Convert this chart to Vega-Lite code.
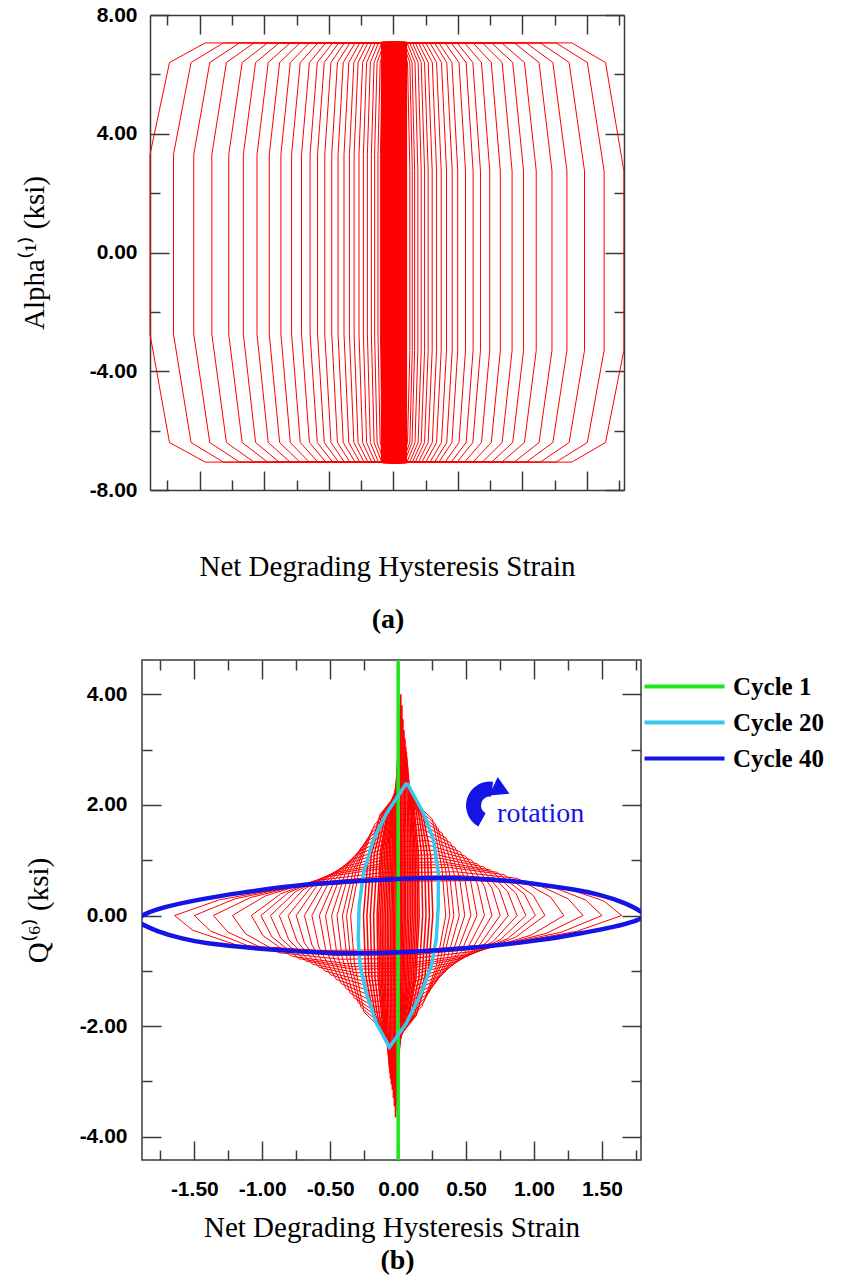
{
"$schema":"https://vega.github.io/schema/vega-lite/v6.json",
"background":"white",
"padding":{"left":20,"top":4,"right":0,"bottom":0},
"spacing":24,
"columns":1,
"align":"none",
"config":{
"view":{"stroke":"#3a3a3a","strokeWidth":1.5},
"axis":{"domain":false,"domainColor":"#3a3a3a","domainWidth":1.5,"grid":false,"tickColor":"#3a3a3a","tickWidth":1.5,"labelFont":"Liberation Sans","labelFontWeight":"bold","labelFontSize":21,"labelColor":"#000","titleFont":"Liberation Serif","titleFontWeight":"normal","titleFontSize":29,"titleColor":"#000","labelFlush":false,"labelOverlap":false}
},
"datasets":{
"a":[
{"l":1,"x":-1.457,"y":-7.06},{"l":1,"x":1.383,"y":-7.06},{"l":1,"x":1.644,"y":-6.4},{"l":1,"x":1.786,"y":-3.3},{"l":1,"x":1.786,"y":2.75},{"l":1,"x":1.644,"y":6.4},{"l":1,"x":1.383,"y":7.06},{"l":1,"x":-1.457,"y":7.06},{"l":1,"x":-1.734,"y":6.4},{"l":1,"x":-1.885,"y":3.3},{"l":1,"x":-1.885,"y":-2.75},{"l":1,"x":-1.734,"y":-6.4},{"l":1,"x":-1.457,"y":-7.06},
{"l":2,"x":-1.316,"y":-7.06},{"l":2,"x":1.26,"y":-7.06},{"l":2,"x":1.503,"y":-6.4},{"l":2,"x":1.633,"y":-3.3},{"l":2,"x":1.633,"y":2.75},{"l":2,"x":1.503,"y":6.4},{"l":2,"x":1.26,"y":7.06},{"l":2,"x":-1.316,"y":7.06},{"l":2,"x":-1.567,"y":6.4},{"l":2,"x":-1.703,"y":3.3},{"l":2,"x":-1.703,"y":-2.75},{"l":2,"x":-1.567,"y":-6.4},{"l":2,"x":-1.316,"y":-7.06},
{"l":3,"x":-1.191,"y":-7.06},{"l":3,"x":1.139,"y":-7.06},{"l":3,"x":1.362,"y":-6.4},{"l":3,"x":1.481,"y":-3.3},{"l":3,"x":1.481,"y":2.75},{"l":3,"x":1.362,"y":6.4},{"l":3,"x":1.139,"y":7.06},{"l":3,"x":-1.191,"y":7.06},{"l":3,"x":-1.422,"y":6.4},{"l":3,"x":-1.546,"y":3.3},{"l":3,"x":-1.546,"y":-2.75},{"l":3,"x":-1.422,"y":-6.4},{"l":3,"x":-1.191,"y":-7.06},
{"l":4,"x":-1.079,"y":-7.06},{"l":4,"x":1.03,"y":-7.06},{"l":4,"x":1.236,"y":-6.4},{"l":4,"x":1.345,"y":-3.3},{"l":4,"x":1.345,"y":2.75},{"l":4,"x":1.236,"y":6.4},{"l":4,"x":1.03,"y":7.06},{"l":4,"x":-1.079,"y":7.06},{"l":4,"x":-1.293,"y":6.4},{"l":4,"x":-1.406,"y":3.3},{"l":4,"x":-1.406,"y":-2.75},{"l":4,"x":-1.293,"y":-6.4},{"l":4,"x":-1.079,"y":-7.06},
{"l":5,"x":-0.974,"y":-7.06},{"l":5,"x":0.937,"y":-7.06},{"l":5,"x":1.129,"y":-6.4},{"l":5,"x":1.229,"y":-3.3},{"l":5,"x":1.229,"y":2.75},{"l":5,"x":1.129,"y":6.4},{"l":5,"x":0.937,"y":7.06},{"l":5,"x":-0.974,"y":7.06},{"l":5,"x":-1.171,"y":6.4},{"l":5,"x":-1.275,"y":3.3},{"l":5,"x":-1.275,"y":-2.75},{"l":5,"x":-1.171,"y":-6.4},{"l":5,"x":-0.974,"y":-7.06},
{"l":6,"x":-0.884,"y":-7.06},{"l":6,"x":0.84,"y":-7.06},{"l":6,"x":1.016,"y":-6.4},{"l":6,"x":1.107,"y":-3.3},{"l":6,"x":1.107,"y":2.75},{"l":6,"x":1.016,"y":6.4},{"l":6,"x":0.84,"y":7.06},{"l":6,"x":-0.884,"y":7.06},{"l":6,"x":-1.067,"y":6.4},{"l":6,"x":-1.162,"y":3.3},{"l":6,"x":-1.162,"y":-2.75},{"l":6,"x":-1.067,"y":-6.4},{"l":6,"x":-0.884,"y":-7.06},
{"l":7,"x":-0.799,"y":-7.06},{"l":7,"x":0.761,"y":-7.06},{"l":7,"x":0.925,"y":-6.4},{"l":7,"x":1.009,"y":-3.3},{"l":7,"x":1.009,"y":2.75},{"l":7,"x":0.925,"y":6.4},{"l":7,"x":0.761,"y":7.06},{"l":7,"x":-0.799,"y":7.06},{"l":7,"x":-0.969,"y":6.4},{"l":7,"x":-1.056,"y":3.3},{"l":7,"x":-1.056,"y":-2.75},{"l":7,"x":-0.969,"y":-6.4},{"l":7,"x":-0.799,"y":-7.06},
{"l":8,"x":-0.723,"y":-7.06},{"l":8,"x":0.69,"y":-7.06},{"l":8,"x":0.843,"y":-6.4},{"l":8,"x":0.92,"y":-3.3},{"l":8,"x":0.92,"y":2.75},{"l":8,"x":0.843,"y":6.4},{"l":8,"x":0.69,"y":7.06},{"l":8,"x":-0.723,"y":7.06},{"l":8,"x":-0.881,"y":6.4},{"l":8,"x":-0.961,"y":3.3},{"l":8,"x":-0.961,"y":-2.75},{"l":8,"x":-0.881,"y":-6.4},{"l":8,"x":-0.723,"y":-7.06},
{"l":9,"x":-0.651,"y":-7.06},{"l":9,"x":0.617,"y":-7.06},{"l":9,"x":0.759,"y":-6.4},{"l":9,"x":0.829,"y":-3.3},{"l":9,"x":0.829,"y":2.75},{"l":9,"x":0.759,"y":6.4},{"l":9,"x":0.617,"y":7.06},{"l":9,"x":-0.651,"y":7.06},{"l":9,"x":-0.798,"y":6.4},{"l":9,"x":-0.871,"y":3.3},{"l":9,"x":-0.871,"y":-2.75},{"l":9,"x":-0.798,"y":-6.4},{"l":9,"x":-0.651,"y":-7.06},
{"l":10,"x":-0.584,"y":-7.06},{"l":10,"x":0.552,"y":-7.06},{"l":10,"x":0.683,"y":-6.4},{"l":10,"x":0.747,"y":-3.3},{"l":10,"x":0.747,"y":2.75},{"l":10,"x":0.683,"y":6.4},{"l":10,"x":0.552,"y":7.06},{"l":10,"x":-0.584,"y":7.06},{"l":10,"x":-0.721,"y":6.4},{"l":10,"x":-0.788,"y":3.3},{"l":10,"x":-0.788,"y":-2.75},{"l":10,"x":-0.721,"y":-6.4},{"l":10,"x":-0.584,"y":-7.06},
{"l":11,"x":-0.523,"y":-7.06},{"l":11,"x":0.494,"y":-7.06},{"l":11,"x":0.616,"y":-6.4},{"l":11,"x":0.675,"y":-3.3},{"l":11,"x":0.675,"y":2.75},{"l":11,"x":0.616,"y":6.4},{"l":11,"x":0.494,"y":7.06},{"l":11,"x":-0.523,"y":7.06},{"l":11,"x":-0.65,"y":6.4},{"l":11,"x":-0.711,"y":3.3},{"l":11,"x":-0.711,"y":-2.75},{"l":11,"x":-0.65,"y":-6.4},{"l":11,"x":-0.523,"y":-7.06},
{"l":12,"x":-0.47,"y":-7.06},{"l":12,"x":0.448,"y":-7.06},{"l":12,"x":0.564,"y":-6.4},{"l":12,"x":0.618,"y":-3.3},{"l":12,"x":0.618,"y":2.75},{"l":12,"x":0.564,"y":6.4},{"l":12,"x":0.448,"y":7.06},{"l":12,"x":-0.47,"y":7.06},{"l":12,"x":-0.589,"y":6.4},{"l":12,"x":-0.645,"y":3.3},{"l":12,"x":-0.645,"y":-2.75},{"l":12,"x":-0.589,"y":-6.4},{"l":12,"x":-0.47,"y":-7.06},
{"l":13,"x":-0.424,"y":-7.06},{"l":13,"x":0.401,"y":-7.06},{"l":13,"x":0.509,"y":-6.4},{"l":13,"x":0.559,"y":-3.3},{"l":13,"x":0.559,"y":2.75},{"l":13,"x":0.509,"y":6.4},{"l":13,"x":0.401,"y":7.06},{"l":13,"x":-0.424,"y":7.06},{"l":13,"x":-0.535,"y":6.4},{"l":13,"x":-0.587,"y":3.3},{"l":13,"x":-0.587,"y":-2.75},{"l":13,"x":-0.535,"y":-6.4},{"l":13,"x":-0.424,"y":-7.06},
{"l":14,"x":-0.379,"y":-7.06},{"l":14,"x":0.353,"y":-7.06},{"l":14,"x":0.454,"y":-6.4},{"l":14,"x":0.499,"y":-3.3},{"l":14,"x":0.499,"y":2.75},{"l":14,"x":0.454,"y":6.4},{"l":14,"x":0.353,"y":7.06},{"l":14,"x":-0.379,"y":7.06},{"l":14,"x":-0.483,"y":6.4},{"l":14,"x":-0.531,"y":3.3},{"l":14,"x":-0.531,"y":-2.75},{"l":14,"x":-0.483,"y":-6.4},{"l":14,"x":-0.379,"y":-7.06},
{"l":15,"x":-0.336,"y":-7.06},{"l":15,"x":0.319,"y":-7.06},{"l":15,"x":0.414,"y":-6.4},{"l":15,"x":0.456,"y":-3.3},{"l":15,"x":0.456,"y":2.75},{"l":15,"x":0.414,"y":6.4},{"l":15,"x":0.319,"y":7.06},{"l":15,"x":-0.336,"y":7.06},{"l":15,"x":-0.433,"y":6.4},{"l":15,"x":-0.477,"y":3.3},{"l":15,"x":-0.477,"y":-2.75},{"l":15,"x":-0.433,"y":-6.4},{"l":15,"x":-0.336,"y":-7.06},
{"l":16,"x":-0.296,"y":-7.06},{"l":16,"x":0.284,"y":-7.06},{"l":16,"x":0.373,"y":-6.4},{"l":16,"x":0.412,"y":-3.3},{"l":16,"x":0.412,"y":2.75},{"l":16,"x":0.373,"y":6.4},{"l":16,"x":0.284,"y":7.06},{"l":16,"x":-0.296,"y":7.06},{"l":16,"x":-0.388,"y":6.4},{"l":16,"x":-0.428,"y":3.3},{"l":16,"x":-0.428,"y":-2.75},{"l":16,"x":-0.388,"y":-6.4},{"l":16,"x":-0.296,"y":-7.06},
{"l":17,"x":-0.26,"y":-7.06},{"l":17,"x":0.251,"y":-7.06},{"l":17,"x":0.335,"y":-6.4},{"l":17,"x":0.371,"y":-3.3},{"l":17,"x":0.371,"y":2.75},{"l":17,"x":0.335,"y":6.4},{"l":17,"x":0.251,"y":7.06},{"l":17,"x":-0.26,"y":7.06},{"l":17,"x":-0.345,"y":6.4},{"l":17,"x":-0.382,"y":3.3},{"l":17,"x":-0.382,"y":-2.75},{"l":17,"x":-0.345,"y":-6.4},{"l":17,"x":-0.26,"y":-7.06},
{"l":18,"x":-0.226,"y":-7.06},{"l":18,"x":0.222,"y":-7.06},{"l":18,"x":0.302,"y":-6.4},{"l":18,"x":0.335,"y":-3.3},{"l":18,"x":0.335,"y":2.75},{"l":18,"x":0.302,"y":6.4},{"l":18,"x":0.222,"y":7.06},{"l":18,"x":-0.226,"y":7.06},{"l":18,"x":-0.306,"y":6.4},{"l":18,"x":-0.34,"y":3.3},{"l":18,"x":-0.34,"y":-2.75},{"l":18,"x":-0.306,"y":-6.4},{"l":18,"x":-0.226,"y":-7.06},
{"l":19,"x":-0.197,"y":-7.06},{"l":19,"x":0.195,"y":-7.06},{"l":19,"x":0.27,"y":-6.4},{"l":19,"x":0.301,"y":-3.3},{"l":19,"x":0.301,"y":2.75},{"l":19,"x":0.27,"y":6.4},{"l":19,"x":0.195,"y":7.06},{"l":19,"x":-0.197,"y":7.06},{"l":19,"x":-0.273,"y":6.4},{"l":19,"x":-0.304,"y":3.3},{"l":19,"x":-0.304,"y":-2.75},{"l":19,"x":-0.273,"y":-6.4},{"l":19,"x":-0.197,"y":-7.06},
{"l":20,"x":-0.167,"y":-7.06},{"l":20,"x":0.17,"y":-7.06},{"l":20,"x":0.242,"y":-6.4},{"l":20,"x":0.27,"y":-3.3},{"l":20,"x":0.27,"y":2.75},{"l":20,"x":0.242,"y":6.4},{"l":20,"x":0.17,"y":7.06},{"l":20,"x":-0.167,"y":7.06},{"l":20,"x":-0.238,"y":6.4},{"l":20,"x":-0.266,"y":3.3},{"l":20,"x":-0.266,"y":-2.75},{"l":20,"x":-0.238,"y":-6.4},{"l":20,"x":-0.167,"y":-7.06},
{"l":21,"x":-0.14,"y":-7.06},{"l":21,"x":0.148,"y":-7.06},{"l":21,"x":0.216,"y":-6.4},{"l":21,"x":0.242,"y":-3.3},{"l":21,"x":0.242,"y":2.75},{"l":21,"x":0.216,"y":6.4},{"l":21,"x":0.148,"y":7.06},{"l":21,"x":-0.14,"y":7.06},{"l":21,"x":-0.207,"y":6.4},{"l":21,"x":-0.232,"y":3.3},{"l":21,"x":-0.232,"y":-2.75},{"l":21,"x":-0.207,"y":-6.4},{"l":21,"x":-0.14,"y":-7.06},
{"l":22,"x":-0.115,"y":-7.06},{"l":22,"x":0.127,"y":-7.06},{"l":22,"x":0.192,"y":-6.4},{"l":22,"x":0.216,"y":-3.3},{"l":22,"x":0.216,"y":2.75},{"l":22,"x":0.192,"y":6.4},{"l":22,"x":0.127,"y":7.06},{"l":22,"x":-0.115,"y":7.06},{"l":22,"x":-0.178,"y":6.4},{"l":22,"x":-0.201,"y":3.3},{"l":22,"x":-0.201,"y":-2.75},{"l":22,"x":-0.178,"y":-6.4},{"l":22,"x":-0.115,"y":-7.06},
{"l":23,"x":-0.09,"y":-7.06},{"l":23,"x":0.106,"y":-7.06},{"l":23,"x":0.168,"y":-6.4},{"l":23,"x":0.19,"y":-3.3},{"l":23,"x":0.19,"y":2.75},{"l":23,"x":0.168,"y":6.4},{"l":23,"x":0.106,"y":7.06},{"l":23,"x":-0.09,"y":7.06},{"l":23,"x":-0.149,"y":6.4},{"l":23,"x":-0.17,"y":3.3},{"l":23,"x":-0.17,"y":-2.75},{"l":23,"x":-0.149,"y":-6.4},{"l":23,"x":-0.09,"y":-7.06},
{"l":24,"x":-0.07,"y":-7.06},{"l":24,"x":0.086,"y":-7.06},{"l":24,"x":0.145,"y":-6.4},{"l":24,"x":0.165,"y":-3.3},{"l":24,"x":0.165,"y":2.75},{"l":24,"x":0.145,"y":6.4},{"l":24,"x":0.086,"y":7.06},{"l":24,"x":-0.07,"y":7.06},{"l":24,"x":-0.126,"y":6.4},{"l":24,"x":-0.145,"y":3.3},{"l":24,"x":-0.145,"y":-2.75},{"l":24,"x":-0.126,"y":-6.4},{"l":24,"x":-0.07,"y":-7.06},
{"l":25,"x":-0.049,"y":-7.06},{"l":25,"x":0.072,"y":-7.06},{"l":25,"x":0.128,"y":-6.4},{"l":25,"x":0.147,"y":-3.3},{"l":25,"x":0.147,"y":2.75},{"l":25,"x":0.128,"y":6.4},{"l":25,"x":0.072,"y":7.06},{"l":25,"x":-0.049,"y":7.06},{"l":25,"x":-0.102,"y":6.4},{"l":25,"x":-0.119,"y":3.3},{"l":25,"x":-0.119,"y":-2.75},{"l":25,"x":-0.102,"y":-6.4},{"l":25,"x":-0.049,"y":-7.06},
{"l":26,"x":-0.034,"y":-7.06},{"l":26,"x":0.056,"y":-7.06},{"l":26,"x":0.11,"y":-6.4},{"l":26,"x":0.128,"y":-3.3},{"l":26,"x":0.128,"y":2.75},{"l":26,"x":0.11,"y":6.4},{"l":26,"x":0.056,"y":7.06},{"l":26,"x":-0.034,"y":7.06},{"l":26,"x":-0.084,"y":6.4},{"l":26,"x":-0.1,"y":3.3},{"l":26,"x":-0.1,"y":-2.75},{"l":26,"x":-0.084,"y":-6.4},{"l":26,"x":-0.034,"y":-7.06},
{"l":27,"x":-0.085,"y":-7.06},{"l":27,"x":0.095,"y":-7.06},{"l":27,"x":0.095,"y":7.06},{"l":27,"x":-0.085,"y":7.06},{"l":27,"x":-0.085,"y":-7.06},
{"l":28,"x":-0.07,"y":-7.06},{"l":28,"x":0.082,"y":-7.06},{"l":28,"x":0.082,"y":7.06},{"l":28,"x":-0.07,"y":7.06},{"l":28,"x":-0.07,"y":-7.06},
{"l":29,"x":-0.056,"y":-7.06},{"l":29,"x":0.069,"y":-7.06},{"l":29,"x":0.069,"y":7.06},{"l":29,"x":-0.056,"y":7.06},{"l":29,"x":-0.056,"y":-7.06},
{"l":30,"x":-0.042,"y":-7.06},{"l":30,"x":0.056,"y":-7.06},{"l":30,"x":0.056,"y":7.06},{"l":30,"x":-0.042,"y":7.06},{"l":30,"x":-0.042,"y":-7.06},
{"l":31,"x":-0.028,"y":-7.06},{"l":31,"x":0.042,"y":-7.06},{"l":31,"x":0.042,"y":7.06},{"l":31,"x":-0.028,"y":7.06},{"l":31,"x":-0.028,"y":-7.06},
{"l":32,"x":-0.014,"y":-7.06},{"l":32,"x":0.028,"y":-7.06},{"l":32,"x":0.028,"y":7.06},{"l":32,"x":-0.014,"y":7.06},{"l":32,"x":-0.014,"y":-7.06},
{"l":33,"x":0.0,"y":-7.06},{"l":33,"x":0.014,"y":-7.06},{"l":33,"x":0.014,"y":7.06},{"l":33,"x":0.0,"y":7.06},{"l":33,"x":0.0,"y":-7.06}
],
"br":[
{"l":1,"x":0.02,"y":4.0},{"l":1,"x":0.017,"y":3.0},{"l":1,"x":0.017,"y":1.8},{"l":1,"x":0.015,"y":0},{"l":1,"x":0.011,"y":-1.643},{"l":1,"x":0.001,"y":-2.738},{"l":1,"x":-0.02,"y":-3.65},{"l":1,"x":-0.017,"y":-2.738},{"l":1,"x":-0.017,"y":-1.643},{"l":1,"x":-0.015,"y":0},{"l":1,"x":-0.011,"y":1.8},{"l":1,"x":-0.001,"y":3.0},{"l":1,"x":0.02,"y":4.0},
{"l":12,"x":0.028,"y":3.8},{"l":12,"x":0.027,"y":2.85},{"l":12,"x":0.027,"y":1.71},{"l":12,"x":0.025,"y":0},{"l":12,"x":0.018,"y":-1.553},{"l":12,"x":0.004,"y":-2.588},{"l":12,"x":-0.028,"y":-3.45},{"l":12,"x":-0.027,"y":-2.588},{"l":12,"x":-0.027,"y":-1.553},{"l":12,"x":-0.025,"y":0},{"l":12,"x":-0.018,"y":1.71},{"l":12,"x":-0.004,"y":2.85},{"l":12,"x":0.028,"y":3.8},
{"l":2,"x":0.035,"y":3.55},{"l":2,"x":0.036,"y":2.663},{"l":2,"x":0.037,"y":1.598},{"l":2,"x":0.035,"y":0},{"l":2,"x":0.026,"y":-1.485},{"l":2,"x":0.008,"y":-2.475},{"l":2,"x":-0.035,"y":-3.3},{"l":2,"x":-0.036,"y":-2.475},{"l":2,"x":-0.037,"y":-1.485},{"l":2,"x":-0.035,"y":0},{"l":2,"x":-0.026,"y":1.598},{"l":2,"x":-0.008,"y":2.663},{"l":2,"x":0.035,"y":3.55},
{"l":13,"x":0.043,"y":3.35},{"l":13,"x":0.045,"y":2.513},{"l":13,"x":0.047,"y":1.508},{"l":13,"x":0.045,"y":0},{"l":13,"x":0.034,"y":-1.418},{"l":13,"x":0.011,"y":-2.363},{"l":13,"x":-0.043,"y":-3.15},{"l":13,"x":-0.045,"y":-2.363},{"l":13,"x":-0.047,"y":-1.418},{"l":13,"x":-0.045,"y":0},{"l":13,"x":-0.034,"y":1.508},{"l":13,"x":-0.011,"y":2.513},{"l":13,"x":0.043,"y":3.35},
{"l":3,"x":0.05,"y":3.2},{"l":3,"x":0.054,"y":2.4},{"l":3,"x":0.057,"y":1.44},{"l":3,"x":0.055,"y":0},{"l":3,"x":0.042,"y":-1.373},{"l":3,"x":0.014,"y":-2.288},{"l":3,"x":-0.05,"y":-3.05},{"l":3,"x":-0.054,"y":-2.288},{"l":3,"x":-0.057,"y":-1.373},{"l":3,"x":-0.055,"y":0},{"l":3,"x":-0.042,"y":1.44},{"l":3,"x":-0.014,"y":2.4},{"l":3,"x":0.05,"y":3.2},
{"l":14,"x":0.056,"y":3.05},{"l":14,"x":0.065,"y":2.288},{"l":14,"x":0.07,"y":1.373},{"l":14,"x":0.068,"y":0},{"l":14,"x":0.053,"y":-1.328},{"l":14,"x":0.02,"y":-2.213},{"l":14,"x":-0.056,"y":-2.95},{"l":14,"x":-0.065,"y":-2.213},{"l":14,"x":-0.07,"y":-1.328},{"l":14,"x":-0.068,"y":0},{"l":14,"x":-0.053,"y":1.373},{"l":14,"x":-0.02,"y":2.288},{"l":14,"x":0.056,"y":3.05},
{"l":4,"x":0.06,"y":2.95},{"l":4,"x":0.074,"y":2.213},{"l":4,"x":0.081,"y":1.328},{"l":4,"x":0.08,"y":0},{"l":4,"x":0.063,"y":-1.283},{"l":4,"x":0.026,"y":-2.138},{"l":4,"x":-0.06,"y":-2.85},{"l":4,"x":-0.074,"y":-2.138},{"l":4,"x":-0.081,"y":-1.283},{"l":4,"x":-0.08,"y":0},{"l":4,"x":-0.063,"y":1.328},{"l":4,"x":-0.026,"y":2.213},{"l":4,"x":0.06,"y":2.95},
{"l":15,"x":0.063,"y":2.86},{"l":15,"x":0.083,"y":2.145},{"l":15,"x":0.093,"y":1.287},{"l":15,"x":0.093,"y":0},{"l":15,"x":0.074,"y":-1.251},{"l":15,"x":0.033,"y":-2.085},{"l":15,"x":-0.063,"y":-2.78},{"l":15,"x":-0.083,"y":-2.085},{"l":15,"x":-0.093,"y":-1.251},{"l":15,"x":-0.093,"y":0},{"l":15,"x":-0.074,"y":1.287},{"l":15,"x":-0.033,"y":2.145},{"l":15,"x":0.063,"y":2.86},
{"l":5,"x":0.065,"y":2.78},{"l":5,"x":0.091,"y":2.085},{"l":5,"x":0.104,"y":1.251},{"l":5,"x":0.105,"y":0},{"l":5,"x":0.085,"y":-1.215},{"l":5,"x":0.039,"y":-2.025},{"l":5,"x":-0.065,"y":-2.7},{"l":5,"x":-0.091,"y":-2.025},{"l":5,"x":-0.104,"y":-1.215},{"l":5,"x":-0.105,"y":0},{"l":5,"x":-0.085,"y":1.251},{"l":5,"x":-0.039,"y":2.085},{"l":5,"x":0.065,"y":2.78},
{"l":16,"x":0.06,"y":2.72},{"l":16,"x":0.097,"y":2.04},{"l":16,"x":0.115,"y":1.224},{"l":16,"x":0.118,"y":0},{"l":16,"x":0.097,"y":-1.193},{"l":16,"x":0.049,"y":-1.988},{"l":16,"x":-0.06,"y":-2.65},{"l":16,"x":-0.097,"y":-1.988},{"l":16,"x":-0.115,"y":-1.193},{"l":16,"x":-0.118,"y":0},{"l":16,"x":-0.097,"y":1.224},{"l":16,"x":-0.049,"y":2.04},{"l":16,"x":0.06,"y":2.72},
{"l":6,"x":0.05,"y":2.66},{"l":6,"x":0.101,"y":1.995},{"l":6,"x":0.125,"y":1.197},{"l":6,"x":0.13,"y":0},{"l":6,"x":0.11,"y":-1.17},{"l":6,"x":0.061,"y":-1.95},{"l":6,"x":-0.05,"y":-2.6},{"l":6,"x":-0.101,"y":-1.95},{"l":6,"x":-0.125,"y":-1.17},{"l":6,"x":-0.13,"y":0},{"l":6,"x":-0.11,"y":1.197},{"l":6,"x":-0.061,"y":1.995},{"l":6,"x":0.05,"y":2.66},
{"l":17,"x":0.052,"y":2.62},{"l":17,"x":0.11,"y":1.965},{"l":17,"x":0.137,"y":1.179},{"l":17,"x":0.143,"y":0},{"l":17,"x":0.121,"y":-1.152},{"l":17,"x":0.068,"y":-1.92},{"l":17,"x":-0.052,"y":-2.56},{"l":17,"x":-0.11,"y":-1.92},{"l":17,"x":-0.137,"y":-1.152},{"l":17,"x":-0.143,"y":0},{"l":17,"x":-0.121,"y":1.179},{"l":17,"x":-0.068,"y":1.965},{"l":17,"x":0.052,"y":2.62},
{"l":7,"x":0.054,"y":2.58},{"l":7,"x":0.118,"y":1.935},{"l":7,"x":0.148,"y":1.161},{"l":7,"x":0.155,"y":0},{"l":7,"x":0.131,"y":-1.139},{"l":7,"x":0.075,"y":-1.898},{"l":7,"x":-0.054,"y":-2.53},{"l":7,"x":-0.118,"y":-1.898},{"l":7,"x":-0.148,"y":-1.139},{"l":7,"x":-0.155,"y":0},{"l":7,"x":-0.131,"y":1.161},{"l":7,"x":-0.075,"y":1.935},{"l":7,"x":0.054,"y":2.58},
{"l":8,"x":0.057,"y":2.52},{"l":8,"x":0.134,"y":1.89},{"l":8,"x":0.171,"y":1.134},{"l":8,"x":0.18,"y":0},{"l":8,"x":0.153,"y":-1.116},{"l":8,"x":0.089,"y":-1.86},{"l":8,"x":-0.057,"y":-2.48},{"l":8,"x":-0.134,"y":-1.86},{"l":8,"x":-0.171,"y":-1.116},{"l":8,"x":-0.18,"y":0},{"l":8,"x":-0.153,"y":1.134},{"l":8,"x":-0.089,"y":1.89},{"l":8,"x":0.057,"y":2.52},
{"l":9,"x":0.06,"y":2.47},{"l":9,"x":0.151,"y":1.853},{"l":9,"x":0.194,"y":1.112},{"l":9,"x":0.205,"y":0},{"l":9,"x":0.176,"y":-1.098},{"l":9,"x":0.103,"y":-1.83},{"l":9,"x":-0.06,"y":-2.44},{"l":9,"x":-0.151,"y":-1.83},{"l":9,"x":-0.194,"y":-1.098},{"l":9,"x":-0.205,"y":0},{"l":9,"x":-0.176,"y":1.112},{"l":9,"x":-0.103,"y":1.853},{"l":9,"x":0.06,"y":2.47},
{"l":10,"x":0.062,"y":2.44},{"l":10,"x":0.167,"y":1.83},{"l":10,"x":0.216,"y":1.098},{"l":10,"x":0.23,"y":0},{"l":10,"x":0.198,"y":-1.089},{"l":10,"x":0.118,"y":-1.815},{"l":10,"x":-0.062,"y":-2.42},{"l":10,"x":-0.167,"y":-1.815},{"l":10,"x":-0.216,"y":-1.089},{"l":10,"x":-0.23,"y":0},{"l":10,"x":-0.198,"y":1.098},{"l":10,"x":-0.118,"y":1.83},{"l":10,"x":0.062,"y":2.44},
{"l":11,"x":0.063,"y":2.42},{"l":11,"x":0.183,"y":1.815},{"l":11,"x":0.239,"y":1.089},{"l":11,"x":0.255,"y":0},{"l":11,"x":0.22,"y":-1.08},{"l":11,"x":0.133,"y":-1.8},{"l":11,"x":-0.063,"y":-2.4},{"l":11,"x":-0.183,"y":-1.8},{"l":11,"x":-0.239,"y":-1.08},{"l":11,"x":-0.255,"y":0},{"l":11,"x":-0.22,"y":1.089},{"l":11,"x":-0.133,"y":1.815},{"l":11,"x":0.063,"y":2.42},
{"l":21,"x":0.35,"y":0},{"l":21,"x":0.322,"y":0.861},{"l":21,"x":0.252,"y":1.743},{"l":21,"x":0.123,"y":2.05},{"l":21,"x":-0.035,"y":2.009},{"l":21,"x":-0.175,"y":1.64},{"l":21,"x":-0.28,"y":0.923},{"l":21,"x":-0.35,"y":0},{"l":21,"x":-0.322,"y":-0.861},{"l":21,"x":-0.252,"y":-1.743},{"l":21,"x":-0.123,"y":-2.05},{"l":21,"x":0.035,"y":-2.009},{"l":21,"x":0.175,"y":-1.64},{"l":21,"x":0.28,"y":-0.923},{"l":21,"x":0.35,"y":0},
{"l":41,"x":0.38,"y":0},{"l":41,"x":0.35,"y":0.819},{"l":41,"x":0.274,"y":1.658},{"l":41,"x":0.133,"y":1.95},{"l":41,"x":-0.038,"y":1.911},{"l":41,"x":-0.19,"y":1.56},{"l":41,"x":-0.304,"y":0.878},{"l":41,"x":-0.38,"y":0},{"l":41,"x":-0.35,"y":-0.819},{"l":41,"x":-0.274,"y":-1.658},{"l":41,"x":-0.133,"y":-1.95},{"l":41,"x":0.038,"y":-1.911},{"l":41,"x":0.19,"y":-1.56},{"l":41,"x":0.304,"y":-0.878},{"l":41,"x":0.38,"y":0},
{"l":22,"x":0.41,"y":0},{"l":22,"x":0.377,"y":0.777},{"l":22,"x":0.295,"y":1.573},{"l":22,"x":0.144,"y":1.85},{"l":22,"x":-0.041,"y":1.813},{"l":22,"x":-0.205,"y":1.48},{"l":22,"x":-0.328,"y":0.833},{"l":22,"x":-0.41,"y":0},{"l":22,"x":-0.377,"y":-0.777},{"l":22,"x":-0.295,"y":-1.573},{"l":22,"x":-0.144,"y":-1.85},{"l":22,"x":0.041,"y":-1.813},{"l":22,"x":0.205,"y":-1.48},{"l":22,"x":0.328,"y":-0.833},{"l":22,"x":0.41,"y":0},
{"l":42,"x":0.45,"y":0},{"l":42,"x":0.414,"y":0.735},{"l":42,"x":0.324,"y":1.488},{"l":42,"x":0.158,"y":1.75},{"l":42,"x":-0.045,"y":1.715},{"l":42,"x":-0.225,"y":1.4},{"l":42,"x":-0.36,"y":0.788},{"l":42,"x":-0.45,"y":0},{"l":42,"x":-0.414,"y":-0.735},{"l":42,"x":-0.324,"y":-1.488},{"l":42,"x":-0.158,"y":-1.75},{"l":42,"x":0.045,"y":-1.715},{"l":42,"x":0.225,"y":-1.4},{"l":42,"x":0.36,"y":-0.788},{"l":42,"x":0.45,"y":0},
{"l":23,"x":0.49,"y":0},{"l":23,"x":0.451,"y":0.693},{"l":23,"x":0.353,"y":1.403},{"l":23,"x":0.172,"y":1.65},{"l":23,"x":-0.049,"y":1.617},{"l":23,"x":-0.245,"y":1.32},{"l":23,"x":-0.392,"y":0.743},{"l":23,"x":-0.49,"y":0},{"l":23,"x":-0.451,"y":-0.693},{"l":23,"x":-0.353,"y":-1.403},{"l":23,"x":-0.172,"y":-1.65},{"l":23,"x":0.049,"y":-1.617},{"l":23,"x":0.245,"y":-1.32},{"l":23,"x":0.392,"y":-0.743},{"l":23,"x":0.49,"y":0},
{"l":43,"x":0.535,"y":0},{"l":43,"x":0.492,"y":0.651},{"l":43,"x":0.385,"y":1.318},{"l":43,"x":0.187,"y":1.55},{"l":43,"x":-0.054,"y":1.519},{"l":43,"x":-0.268,"y":1.24},{"l":43,"x":-0.428,"y":0.698},{"l":43,"x":-0.535,"y":0},{"l":43,"x":-0.492,"y":-0.651},{"l":43,"x":-0.385,"y":-1.318},{"l":43,"x":-0.187,"y":-1.55},{"l":43,"x":0.054,"y":-1.519},{"l":43,"x":0.268,"y":-1.24},{"l":43,"x":0.428,"y":-0.698},{"l":43,"x":0.535,"y":0},
{"l":24,"x":0.58,"y":0},{"l":24,"x":0.534,"y":0.609},{"l":24,"x":0.418,"y":1.233},{"l":24,"x":0.203,"y":1.45},{"l":24,"x":-0.058,"y":1.421},{"l":24,"x":-0.29,"y":1.16},{"l":24,"x":-0.464,"y":0.653},{"l":24,"x":-0.58,"y":0},{"l":24,"x":-0.534,"y":-0.609},{"l":24,"x":-0.418,"y":-1.233},{"l":24,"x":-0.203,"y":-1.45},{"l":24,"x":0.058,"y":-1.421},{"l":24,"x":0.29,"y":-1.16},{"l":24,"x":0.464,"y":-0.653},{"l":24,"x":0.58,"y":0},
{"l":44,"x":0.635,"y":0},{"l":44,"x":0.584,"y":0.569},{"l":44,"x":0.457,"y":1.152},{"l":44,"x":0.222,"y":1.355},{"l":44,"x":-0.064,"y":1.328},{"l":44,"x":-0.318,"y":1.084},{"l":44,"x":-0.508,"y":0.61},{"l":44,"x":-0.635,"y":0},{"l":44,"x":-0.584,"y":-0.569},{"l":44,"x":-0.457,"y":-1.152},{"l":44,"x":-0.222,"y":-1.355},{"l":44,"x":0.064,"y":-1.328},{"l":44,"x":0.318,"y":-1.084},{"l":44,"x":0.508,"y":-0.61},{"l":44,"x":0.635,"y":0},
{"l":25,"x":0.69,"y":0},{"l":25,"x":0.635,"y":0.529},{"l":25,"x":0.497,"y":1.071},{"l":25,"x":0.242,"y":1.26},{"l":25,"x":-0.069,"y":1.235},{"l":25,"x":-0.345,"y":1.008},{"l":25,"x":-0.552,"y":0.567},{"l":25,"x":-0.69,"y":0},{"l":25,"x":-0.635,"y":-0.529},{"l":25,"x":-0.497,"y":-1.071},{"l":25,"x":-0.242,"y":-1.26},{"l":25,"x":0.069,"y":-1.235},{"l":25,"x":0.345,"y":-1.008},{"l":25,"x":0.552,"y":-0.567},{"l":25,"x":0.69,"y":0},
{"l":45,"x":0.75,"y":0},{"l":45,"x":0.69,"y":0.496},{"l":45,"x":0.54,"y":1.003},{"l":45,"x":0.263,"y":1.18},{"l":45,"x":-0.075,"y":1.156},{"l":45,"x":-0.375,"y":0.944},{"l":45,"x":-0.6,"y":0.531},{"l":45,"x":-0.75,"y":0},{"l":45,"x":-0.69,"y":-0.496},{"l":45,"x":-0.54,"y":-1.003},{"l":45,"x":-0.263,"y":-1.18},{"l":45,"x":0.075,"y":-1.156},{"l":45,"x":0.375,"y":-0.944},{"l":45,"x":0.6,"y":-0.531},{"l":45,"x":0.75,"y":0},
{"l":26,"x":0.81,"y":0},{"l":26,"x":0.745,"y":0.462},{"l":26,"x":0.583,"y":0.935},{"l":26,"x":0.284,"y":1.1},{"l":26,"x":-0.081,"y":1.078},{"l":26,"x":-0.405,"y":0.88},{"l":26,"x":-0.648,"y":0.495},{"l":26,"x":-0.81,"y":0},{"l":26,"x":-0.745,"y":-0.462},{"l":26,"x":-0.583,"y":-0.935},{"l":26,"x":-0.284,"y":-1.1},{"l":26,"x":0.081,"y":-1.078},{"l":26,"x":0.405,"y":-0.88},{"l":26,"x":0.648,"y":-0.495},{"l":26,"x":0.81,"y":0},
{"l":46,"x":0.875,"y":0},{"l":46,"x":0.805,"y":0.435},{"l":46,"x":0.63,"y":0.88},{"l":46,"x":0.306,"y":1.035},{"l":46,"x":-0.088,"y":1.014},{"l":46,"x":-0.438,"y":0.828},{"l":46,"x":-0.7,"y":0.466},{"l":46,"x":-0.875,"y":0},{"l":46,"x":-0.805,"y":-0.435},{"l":46,"x":-0.63,"y":-0.88},{"l":46,"x":-0.306,"y":-1.035},{"l":46,"x":0.088,"y":-1.014},{"l":46,"x":0.438,"y":-0.828},{"l":46,"x":0.7,"y":-0.466},{"l":46,"x":0.875,"y":0},
{"l":27,"x":0.94,"y":0},{"l":27,"x":0.865,"y":0.407},{"l":27,"x":0.677,"y":0.825},{"l":27,"x":0.329,"y":0.97},{"l":27,"x":-0.094,"y":0.951},{"l":27,"x":-0.47,"y":0.776},{"l":27,"x":-0.752,"y":0.437},{"l":27,"x":-0.94,"y":0},{"l":27,"x":-0.865,"y":-0.407},{"l":27,"x":-0.677,"y":-0.825},{"l":27,"x":-0.329,"y":-0.97},{"l":27,"x":0.094,"y":-0.951},{"l":27,"x":0.47,"y":-0.776},{"l":27,"x":0.752,"y":-0.437},{"l":27,"x":0.94,"y":0},
{"l":47,"x":1.01,"y":0},{"l":47,"x":0.929,"y":0.386},{"l":47,"x":0.727,"y":0.782},{"l":47,"x":0.354,"y":0.92},{"l":47,"x":-0.101,"y":0.902},{"l":47,"x":-0.505,"y":0.736},{"l":47,"x":-0.808,"y":0.414},{"l":47,"x":-1.01,"y":0},{"l":47,"x":-0.929,"y":-0.386},{"l":47,"x":-0.727,"y":-0.782},{"l":47,"x":-0.354,"y":-0.92},{"l":47,"x":0.101,"y":-0.902},{"l":47,"x":0.505,"y":-0.736},{"l":47,"x":0.808,"y":-0.414},{"l":47,"x":1.01,"y":0},
{"l":28,"x":1.08,"y":0},{"l":28,"x":0.994,"y":0.365},{"l":28,"x":0.778,"y":0.74},{"l":28,"x":0.378,"y":0.87},{"l":28,"x":-0.108,"y":0.853},{"l":28,"x":-0.54,"y":0.696},{"l":28,"x":-0.864,"y":0.392},{"l":28,"x":-1.08,"y":0},{"l":28,"x":-0.994,"y":-0.365},{"l":28,"x":-0.778,"y":-0.74},{"l":28,"x":-0.378,"y":-0.87},{"l":28,"x":0.108,"y":-0.853},{"l":28,"x":0.54,"y":-0.696},{"l":28,"x":0.864,"y":-0.392},{"l":28,"x":1.08,"y":0},
{"l":29,"x":1.22,"y":0},{"l":29,"x":1.122,"y":0.332},{"l":29,"x":0.878,"y":0.672},{"l":29,"x":0.427,"y":0.79},{"l":29,"x":-0.122,"y":0.774},{"l":29,"x":-0.61,"y":0.632},{"l":29,"x":-0.976,"y":0.356},{"l":29,"x":-1.22,"y":0},{"l":29,"x":-1.122,"y":-0.332},{"l":29,"x":-0.878,"y":-0.672},{"l":29,"x":-0.427,"y":-0.79},{"l":29,"x":0.122,"y":-0.774},{"l":29,"x":0.61,"y":-0.632},{"l":29,"x":0.976,"y":-0.356},{"l":29,"x":1.22,"y":0},
{"l":30,"x":1.36,"y":0},{"l":30,"x":1.251,"y":0.302},{"l":30,"x":0.979,"y":0.612},{"l":30,"x":0.476,"y":0.72},{"l":30,"x":-0.136,"y":0.706},{"l":30,"x":-0.68,"y":0.576},{"l":30,"x":-1.088,"y":0.324},{"l":30,"x":-1.36,"y":0},{"l":30,"x":-1.251,"y":-0.302},{"l":30,"x":-0.979,"y":-0.612},{"l":30,"x":-0.476,"y":-0.72},{"l":30,"x":0.136,"y":-0.706},{"l":30,"x":0.68,"y":-0.576},{"l":30,"x":1.088,"y":-0.324},{"l":30,"x":1.36,"y":0},
{"l":31,"x":1.5,"y":0},{"l":31,"x":1.38,"y":0.281},{"l":31,"x":1.08,"y":0.57},{"l":31,"x":0.525,"y":0.67},{"l":31,"x":-0.15,"y":0.657},{"l":31,"x":-0.75,"y":0.536},{"l":31,"x":-1.2,"y":0.302},{"l":31,"x":-1.5,"y":0},{"l":31,"x":-1.38,"y":-0.281},{"l":31,"x":-1.08,"y":-0.57},{"l":31,"x":-0.525,"y":-0.67},{"l":31,"x":0.15,"y":-0.657},{"l":31,"x":0.75,"y":-0.536},{"l":31,"x":1.2,"y":-0.302},{"l":31,"x":1.5,"y":0},
{"l":32,"x":1.645,"y":0},{"l":32,"x":1.513,"y":0.265},{"l":32,"x":1.184,"y":0.536},{"l":32,"x":0.576,"y":0.63},{"l":32,"x":-0.165,"y":0.617},{"l":32,"x":-0.823,"y":0.504},{"l":32,"x":-1.316,"y":0.284},{"l":32,"x":-1.645,"y":0},{"l":32,"x":-1.513,"y":-0.265},{"l":32,"x":-1.184,"y":-0.536},{"l":32,"x":-0.576,"y":-0.63},{"l":32,"x":0.165,"y":-0.617},{"l":32,"x":0.823,"y":-0.504},{"l":32,"x":1.316,"y":-0.284},{"l":32,"x":1.645,"y":0}
],
"cyc":[
{"c":"Cycle 1","x":0,"y":-4.7},{"c":"Cycle 1","x":0,"y":4.7},
{"c":"Cycle 20","x":0.064,"y":2.4},{"c":"Cycle 20","x":0.186,"y":1.855},{"c":"Cycle 20","x":0.26,"y":1.37},{"c":"Cycle 20","x":0.296,"y":0.77},{"c":"Cycle 20","x":0.295,"y":0.17},{"c":"Cycle 20","x":0.28,"y":-0.43},{"c":"Cycle 20","x":0.245,"y":-0.9},{"c":"Cycle 20","x":0.17,"y":-1.4},{"c":"Cycle 20","x":0.06,"y":-1.95},{"c":"Cycle 20","x":-0.064,"y":-2.38},{"c":"Cycle 20","x":-0.16,"y":-1.95},{"c":"Cycle 20","x":-0.235,"y":-1.4},{"c":"Cycle 20","x":-0.28,"y":-0.9},{"c":"Cycle 20","x":-0.294,"y":-0.43},{"c":"Cycle 20","x":-0.287,"y":0.17},{"c":"Cycle 20","x":-0.255,"y":0.77},{"c":"Cycle 20","x":-0.182,"y":1.37},{"c":"Cycle 20","x":-0.083,"y":1.86},{"c":"Cycle 20","x":0.064,"y":2.4},
{"c":"Cycle 40","x":-1.92,"y":-0.08},{"c":"Cycle 40","x":-1.85,"y":0.04},{"c":"Cycle 40","x":-1.7,"y":0.16},{"c":"Cycle 40","x":-1.5,"y":0.27},{"c":"Cycle 40","x":-1.16,"y":0.41},{"c":"Cycle 40","x":-0.67,"y":0.56},{"c":"Cycle 40","x":-0.18,"y":0.64},{"c":"Cycle 40","x":0.31,"y":0.68},{"c":"Cycle 40","x":0.8,"y":0.63},{"c":"Cycle 40","x":1.29,"y":0.47},{"c":"Cycle 40","x":1.5,"y":0.36},{"c":"Cycle 40","x":1.66,"y":0.23},{"c":"Cycle 40","x":1.78,"y":0.08},{"c":"Cycle 40","x":1.81,"y":-0.02},{"c":"Cycle 40","x":1.74,"y":-0.1},{"c":"Cycle 40","x":1.59,"y":-0.2},{"c":"Cycle 40","x":1.39,"y":-0.3},{"c":"Cycle 40","x":1.05,"y":-0.44},{"c":"Cycle 40","x":0.56,"y":-0.58},{"c":"Cycle 40","x":0.07,"y":-0.66},{"c":"Cycle 40","x":-0.42,"y":-0.68},{"c":"Cycle 40","x":-0.91,"y":-0.62},{"c":"Cycle 40","x":-1.4,"y":-0.5},{"c":"Cycle 40","x":-1.61,"y":-0.4},{"c":"Cycle 40","x":-1.77,"y":-0.28},{"c":"Cycle 40","x":-1.89,"y":-0.15}
]
},
"concat":[
{
"width":482,"height":475,
"view":{"stroke":null},
"title":{"text":"(a)","orient":"bottom","offset":24,"dx":5,"frame":"group","font":"Liberation Serif","fontSize":28,"fontWeight":"bold","color":"#000"},
"data":{"name":"a"},
"resolve":{"axis":{"x":"independent","y":"independent"}},
"layer":[
{"transform":[{"filter":"datum.l <= 10"}],
"mark":{"type":"line","color":"#ff0000","strokeWidth":1,"clip":true},
"encoding":{
"x":{"field":"x","type":"quantitative","scale":{"domain":[-1.885,1.787],"range":[8,482],"nice":false,"zero":false},"axis":{"orient":"bottom","domain":true,"values":[-1.5,-1,-0.5,0,0.5,1,1.5],"tickSize":-19,"labels":false,"title":"Net Degrading Hysteresis Strain","titlePadding":62}},
"y":{"field":"y","type":"quantitative","scale":{"domain":[-8,8],"nice":false,"zero":false},"axis":{"orient":"left","domain":true,"offset":-8,"values":[-8,-4,0,4,8],"format":".2f","labelExpr":"replace(datum.label, '−', '-')","tickSize":-19,"labelPadding":32,"title":"Alpha⁽¹⁾ (ksi)","titlePadding":40}},
"detail":{"field":"l","type":"nominal"},
"order":{"value":null}}},
{"transform":[{"filter":"datum.l > 10 && datum.l <= 20"}],
"mark":{"type":"line","color":"#ff0000","strokeWidth":1,"clip":true},
"encoding":{
"x":{"field":"x","type":"quantitative","scale":{"domain":[-1.885,1.787],"range":[8,482],"nice":false,"zero":false},"axis":{"orient":"top","domain":true,"values":[-1.5,-1,-0.5,0,0.5,1,1.5],"tickSize":-19,"labels":false,"title":null}},
"y":{"field":"y","type":"quantitative","scale":{"domain":[-8,8],"nice":false,"zero":false},"axis":{"orient":"right","domain":true,"values":[-8,-4,0,4,8],"tickSize":-19,"labels":false,"title":null}},
"detail":{"field":"l","type":"nominal"},
"order":{"value":null}}},
{"transform":[{"filter":"datum.l > 20 && datum.l <= 26"}],
"mark":{"type":"line","color":"#ff0000","strokeWidth":1,"clip":true},
"encoding":{
"x":{"field":"x","type":"quantitative","scale":{"domain":[-1.885,1.787],"range":[8,482],"nice":false,"zero":false},"axis":{"orient":"bottom","values":[-1.75,-1.25,-0.75,-0.25,0.25,0.75,1.25,1.75],"tickSize":-10,"labels":false,"title":null}},
"y":{"field":"y","type":"quantitative","scale":{"domain":[-8,8],"nice":false,"zero":false},"axis":{"orient":"left","offset":-8,"values":[-6,-2,2,6],"tickSize":-10,"labels":false,"title":null}},
"detail":{"field":"l","type":"nominal"},
"order":{"value":null}}},
{"transform":[{"filter":"datum.l > 26"}],
"mark":{"type":"line","color":"#ff0000","strokeWidth":3,"clip":true},
"encoding":{
"x":{"field":"x","type":"quantitative","scale":{"domain":[-1.885,1.787],"range":[8,482],"nice":false,"zero":false},"axis":{"orient":"top","values":[-1.75,-1.25,-0.75,-0.25,0.25,0.75,1.25,1.75],"tickSize":-10,"labels":false,"title":null}},
"y":{"field":"y","type":"quantitative","scale":{"domain":[-8,8],"nice":false,"zero":false},"axis":{"orient":"right","values":[-6,-2,2,6],"tickSize":-10,"labels":false,"title":null}},
"detail":{"field":"l","type":"nominal"},
"order":{"value":null}}}
]
},
{
"width":499,"height":500,
"title":{"text":"(b)","orient":"bottom","offset":5,"dx":6,"frame":"group","font":"Liberation Serif","fontSize":28,"fontWeight":"bold","color":"#000"},
"resolve":{"axis":{"x":"independent","y":"independent"}},
"layer":[
{"data":{"name":"br"},"transform":[{"filter":"datum.l < 20"}],
"mark":{"type":"line","color":"#ff0000","strokeWidth":1.5,"clip":true},
"encoding":{
"x":{"field":"x","type":"quantitative","scale":{"domain":[-1.885,1.787],"nice":false,"zero":false},"axis":{"orient":"bottom","values":[-1.5,-1,-0.5,0,0.5,1,1.5],"format":".2f","labelExpr":"replace(datum.label, '−', '-')","tickSize":-19,"labelPadding":37,"title":"Net Degrading Hysteresis Strain","titlePadding":14}},
"y":{"field":"y","type":"quantitative","scale":{"domain":[-4.42,4.62],"nice":false,"zero":false},"axis":{"orient":"left","values":[-4,-2,0,2,4],"format":".2f","labelExpr":"replace(datum.label, '−', '-')","tickSize":-19,"labelPadding":34,"title":"Q⁽⁶⁾ (ksi)","titlePadding":26}},
"detail":{"field":"l","type":"nominal"},
"order":{"value":null}}},
{"data":{"name":"br"},"transform":[{"filter":"datum.l > 20"}],
"mark":{"type":"line","color":"#ff0000","strokeWidth":1,"clip":true},
"encoding":{
"x":{"field":"x","type":"quantitative","scale":{"domain":[-1.885,1.787],"nice":false,"zero":false},"axis":{"orient":"top","values":[-1.5,-1,-0.5,0,0.5,1,1.5],"tickSize":-19,"labels":false,"title":null}},
"y":{"field":"y","type":"quantitative","scale":{"domain":[-4.42,4.62],"nice":false,"zero":false},"axis":{"orient":"right","values":[-4,-2,0,2,4],"tickSize":-19,"labels":false,"title":null}},
"detail":{"field":"l","type":"nominal"},
"order":{"value":null}}},
{"data":{"name":"cyc"},"transform":[{"filter":"datum.c == 'Cycle 1'"}],
"mark":{"type":"line","strokeWidth":3.5,"clip":true},
"encoding":{
"x":{"field":"x","type":"quantitative","scale":{"domain":[-1.885,1.787],"nice":false,"zero":false},"axis":{"orient":"bottom","values":[-1.75,-1.25,-0.75,-0.25,0.25,0.75,1.25,1.75],"tickSize":-10,"labels":false,"title":null}},
"y":{"field":"y","type":"quantitative","scale":{"domain":[-4.42,4.62],"nice":false,"zero":false},"axis":{"orient":"left","values":[-3,-1,1,3],"tickSize":-10,"labels":false,"title":null}},
"color":{"field":"c","type":"nominal","scale":{"domain":["Cycle 1","Cycle 20","Cycle 40"],"range":["#1ee61e","#36c8ee","#1414e6"]},"legend":{"orient":"none","legendX":562,"legendY":659,"title":null,"symbolType":"M-9,0H1","symbolSize":256,"symbolStrokeWidth":4,"labelFont":"Liberation Serif","labelFontSize":25,"labelFontWeight":"bold","labelColor":"#000","labelOffset":4,"rowPadding":10}},
"order":{"value":null}}},
{"data":{"name":"cyc"},"transform":[{"filter":"datum.c == 'Cycle 20'"}],
"mark":{"type":"line","strokeWidth":3.5,"clip":true},
"encoding":{
"x":{"field":"x","type":"quantitative","scale":{"domain":[-1.885,1.787],"nice":false,"zero":false},"axis":{"orient":"top","values":[-1.75,-1.25,-0.75,-0.25,0.25,0.75,1.25,1.75],"tickSize":-10,"labels":false,"title":null}},
"y":{"field":"y","type":"quantitative","scale":{"domain":[-4.42,4.62],"nice":false,"zero":false},"axis":{"orient":"right","values":[-3,-1,1,3],"tickSize":-10,"labels":false,"title":null}},
"color":{"field":"c","type":"nominal","scale":{"domain":["Cycle 1","Cycle 20","Cycle 40"],"range":["#1ee61e","#36c8ee","#1414e6"]},"legend":{"orient":"none","legendX":562,"legendY":659,"title":null,"symbolType":"M-9,0H1","symbolSize":256,"symbolStrokeWidth":4,"labelFont":"Liberation Serif","labelFontSize":25,"labelFontWeight":"bold","labelColor":"#000","labelOffset":4,"rowPadding":10}},
"order":{"value":null}}},
{"data":{"name":"cyc"},"transform":[{"filter":"datum.c == 'Cycle 40'"}],
"mark":{"type":"line","strokeWidth":4.5,"interpolate":"cardinal-closed","clip":true},
"encoding":{
"x":{"field":"x","type":"quantitative","scale":{"domain":[-1.885,1.787],"nice":false,"zero":false},"axis":null},
"y":{"field":"y","type":"quantitative","scale":{"domain":[-4.42,4.62],"nice":false,"zero":false},"axis":null},
"color":{"field":"c","type":"nominal","scale":{"domain":["Cycle 1","Cycle 20","Cycle 40"],"range":["#1ee61e","#36c8ee","#1414e6"]},"legend":{"orient":"none","legendX":562,"legendY":659,"title":null,"symbolType":"M-9,0H1","symbolSize":256,"symbolStrokeWidth":4,"labelFont":"Liberation Serif","labelFontSize":25,"labelFontWeight":"bold","labelColor":"#000","labelOffset":4,"rowPadding":10}},
"order":{"value":null}}},
{"data":{"values":[{"x":0.676,"y":1.99}]},
"mark":{"type":"arc","color":"#1414e6","theta":3.65,"theta2":6.41,"radius":24,"radius2":9},
"encoding":{
"x":{"field":"x","type":"quantitative","scale":{"domain":[-1.885,1.787],"nice":false,"zero":false},"axis":null},
"y":{"field":"y","type":"quantitative","scale":{"domain":[-4.42,4.62],"nice":false,"zero":false},"axis":null}}},
{"data":{"values":[{"x":0.76,"y":2.27}]},
"mark":{"type":"point","shape":"triangle-right","filled":true,"color":"#1414e6","size":420,"angle":25,"opacity":1},
"encoding":{
"x":{"field":"x","type":"quantitative","scale":{"domain":[-1.885,1.787],"nice":false,"zero":false},"axis":null},
"y":{"field":"y","type":"quantitative","scale":{"domain":[-4.42,4.62],"nice":false,"zero":false},"axis":null}}},
{"data":{"values":[{"x":0.728,"y":1.83,"t":"rotation"}]},
"mark":{"type":"text","align":"left","baseline":"middle","font":"Liberation Serif","fontSize":28,"color":"#1414e6"},
"encoding":{
"x":{"field":"x","type":"quantitative","scale":{"domain":[-1.885,1.787],"nice":false,"zero":false},"axis":null},
"y":{"field":"y","type":"quantitative","scale":{"domain":[-4.42,4.62],"nice":false,"zero":false},"axis":null},
"text":{"field":"t","type":"nominal"}}}
]
}
]
}
